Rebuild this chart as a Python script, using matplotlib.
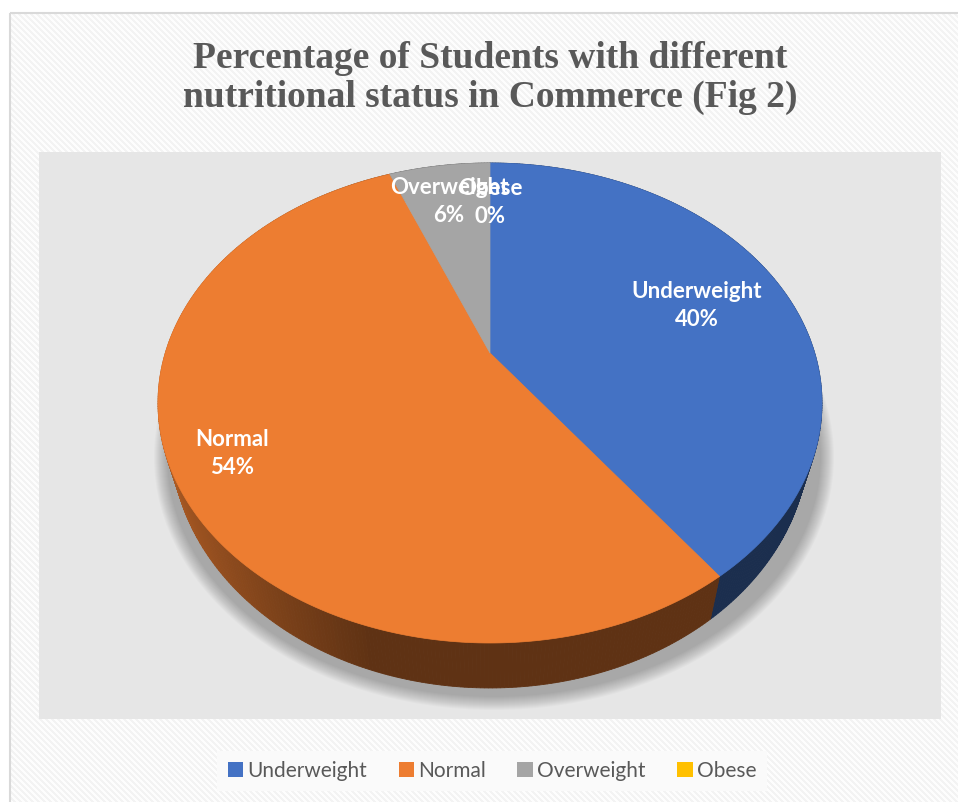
import numpy as np
import matplotlib.pyplot as plt
from matplotlib.patches import Rectangle, Ellipse, Polygon

categories = ['Underweight', 'Normal', 'Overweight', 'Obese']
shares = [40, 54, 6, 0]
pct_labels = ['40%', '54%', '6%', '0%']
colors = ['#4472c4', '#ed7d31', '#a5a5a5', '#ffc000']

W, H = 958, 802
fig = plt.figure(figsize=(W / 100, H / 100), dpi=100)
ax = fig.add_axes([0, 0, 1, 1])

# striped chart background
rows, cols = np.mgrid[0:H, 0:W]
bg = np.where(((rows - cols) % 6) < 3, 0.955, 0.99)
ax.imshow(bg, cmap='gray', vmin=0, vmax=1, extent=(0, W, H, 0),
          interpolation='nearest', aspect='auto', zorder=0)
ax.add_patch(Rectangle((0, 0), W, 12, facecolor='white', edgecolor='none', zorder=1))
ax.add_patch(Rectangle((0, 0), 9, H, facecolor='white', edgecolor='none', zorder=1))
ax.add_patch(Rectangle((10, 13), W, H, fill=False, edgecolor='#d9d9d9', lw=1.5, zorder=2))

# plot area
ax.add_patch(Rectangle((39, 152), 902, 567, facecolor='#e6e6e6', edgecolor='none', zorder=2))

ax.set_xlim(0, W)
ax.set_ylim(H, 0)
ax.axis('off')

# perspective pie geometry (pixels)
cx, cy = 490, 403
RX, RY = 332, 240
lift = 50
depth = 35.6
squeeze = 0.04  # vertical edges lean toward the middle
k = lift / RY
tt = np.linspace(0, 2 * np.pi, 2000)
a = RX / np.max(np.abs(np.sin(tt) / (1 + k * np.cos(tt))))


def project(x, y, drop=0.0):
    w = 1 + k * y
    px = cx + a * x / w
    if drop:
        px = cx + (px - cx) * (1 - squeeze * drop / depth)
    return px, cy - (RY * y + lift) / w + drop / w


def shade(c, f):
    r, g, b = [int(c[i:i + 2], 16) / 255 for i in (1, 3, 5)]
    return (r * f, g * f, b * f)


fracs = np.array(shares, dtype=float) / sum(shares)
starts = np.concatenate([[0], np.cumsum(fracs)[:-1]]) * 2 * np.pi
ends = np.cumsum(fracs) * 2 * np.pi

# soft shadow below the pie
for i in range(14):
    ax.add_patch(Ellipse((cx + 4, cy + 54), 2 * RX - 10 + 2 * i, 2 * RY + 2 * i,
                         facecolor='black', edgecolor='none', alpha=0.02, zorder=3))

# side walls
for c, t0, t1 in zip(colors, starts, ends):
    if t1 - t0 <= 0:
        continue
    th = np.linspace(t0, t1, max(int((t1 - t0) / 0.01), 2))
    for s0, s1 in zip(th[:-1], th[1:]):
        xs, ys = np.sin([s0, s1]), np.cos([s0, s1])
        top = [project(x, y) for x, y in zip(xs, ys)]
        bot = [project(x, y, depth) for x, y in zip(xs, ys)]
        xm = np.sin((s0 + s1) / 2)
        f = 0.4 + 0.35 * np.clip((-xm - 0.3) / 0.7, 0, 1)
        col = shade(c, f)
        ax.add_patch(Polygon([top[0], top[1], bot[1], bot[0]], closed=True,
                             facecolor=col, edgecolor=col, lw=0.6, zorder=4))

# top faces
for c, t0, t1 in zip(colors, starts, ends):
    if t1 - t0 <= 0:
        continue
    th = np.linspace(t0, t1, max(int((t1 - t0) / 0.005), 2))
    pts = [project(0, 0)] + [project(np.sin(t), np.cos(t)) for t in th]
    ax.add_patch(Polygon(pts, closed=True, facecolor=c, edgecolor=c, lw=0.5, zorder=5))

# data labels
label_r = [0.70, 0.83, 0.78, 0.76]
for name, p, t0, t1, r in zip(categories, pct_labels, starts, ends, label_r):
    tm = (t0 + t1) / 2
    lx, ly = project(r * np.sin(tm), r * np.cos(tm))
    ax.text(lx, ly, name + '\n' + p, ha='center', va='center', color='white',
            fontsize=16, fontweight='bold', family='Lato', linespacing=1.4, zorder=6)

ax.text(490, 41, 'Percentage of Students with different\nnutritional status in Commerce (Fig 2)',
        ha='center', va='top', fontsize=27, fontweight='bold', family='Liberation Serif',
        color='#595959', linespacing=1.15, zorder=6)

handles = [Rectangle((0, 0), 1, 1, facecolor=c, edgecolor='none') for c in colors]
leg = fig.legend(handles, categories, loc='center', bbox_to_anchor=(492 / W, 1 - 771 / H),
                 ncol=4, frameon=True, facecolor='#fafafa', edgecolor='none', framealpha=1,
                 handlelength=0.75, handleheight=0.75, handletextpad=0.2, columnspacing=1.5,
                 prop={'family': 'Lato', 'size': 15}, labelcolor='#595959', fancybox=False,
                 borderpad=0.5)

fig.savefig('out.png', dpi=100)
